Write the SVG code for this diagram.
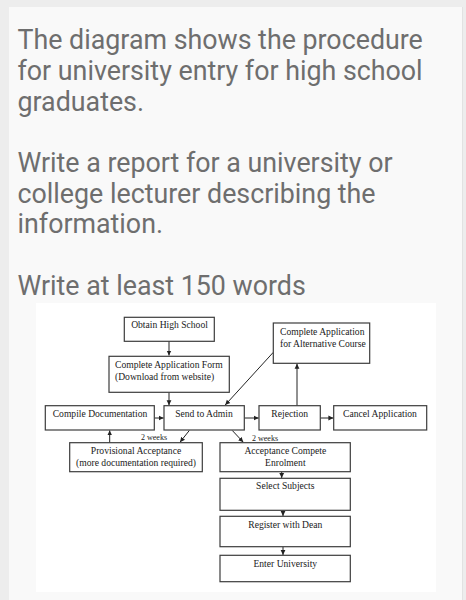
<svg xmlns="http://www.w3.org/2000/svg" width="466" height="600" viewBox="0 0 466 600">
<style>
.h{font-family:Roboto,"Noto Sans",sans-serif;font-size:26.8px;fill:#6e6e6e}
.box{fill:#fff;stroke:#3c3c3c;stroke-width:1.2}
.t{font-family:"Liberation Serif","Times New Roman",serif;font-size:9.6px;fill:#1a1a1a}
.c{text-anchor:middle}
.s{font-family:"Liberation Serif","Times New Roman",serif;font-size:8px;fill:#1a1a1a}
.ln{stroke:#222;stroke-width:1;fill:none;marker-end:url(#ah)}
</style>
<defs>
<marker id="ah" markerUnits="userSpaceOnUse" markerWidth="6" markerHeight="6" refX="5" refY="3" orient="auto">
<path d="M0,0.6 L5,3 L0,5.4 Z" fill="#222"/>
</marker>
</defs>
<rect x="0" y="0" width="466" height="600" fill="#ededed"/>
<rect x="9" y="7" width="453" height="600" fill="#f9f9f9"/>
<line x1="462.5" y1="7" x2="462.5" y2="600" stroke="#e2e2e2" stroke-width="1"/>
<g id="heading">
<text class="h" x="17.5" y="49.3">The diagram shows the procedure</text>
<text class="h" x="17.5" y="80">for university entry for high school</text>
<text class="h" x="17.5" y="110.5">graduates.</text>
<text class="h" x="17.5" y="172.3">Write a report for a university or</text>
<text class="h" x="17.5" y="202.7">college lecturer describing the</text>
<text class="h" x="17.5" y="233">information.</text>
<text class="h" x="17.5" y="295">Write at least 150 words</text>
</g>
<rect x="36" y="303" width="400" height="289" fill="#fff"/>
<g id="connectors">
<line class="ln" x1="169" y1="341" x2="169" y2="355.5"/>
<line class="ln" x1="169" y1="392.3" x2="169" y2="405.2"/>
<line class="ln" x1="154.3" y1="418" x2="163.6" y2="418"/>
<line class="ln" x1="273.3" y1="352.3" x2="225.2" y2="405"/>
<line class="ln" x1="109.7" y1="442.7" x2="109.7" y2="430.4"/>
<line class="ln" x1="189.3" y1="430.5" x2="180" y2="442.2"/>
<line class="ln" x1="232.3" y1="430.5" x2="243.3" y2="442.2"/>
<line class="ln" x1="244.3" y1="418" x2="258.7" y2="418"/>
<line class="ln" x1="320.3" y1="418" x2="333.4" y2="418"/>
<line class="ln" x1="297" y1="405.7" x2="297" y2="363.8"/>
<line class="ln" x1="281.7" y1="471.7" x2="281.7" y2="478"/>
<line class="ln" x1="283" y1="510.3" x2="283" y2="516"/>
<line class="ln" x1="283" y1="546.7" x2="283" y2="555"/>
<text class="s" x="141" y="439.5">2 weeks</text>
<text class="s" x="252" y="440.5">2 weeks</text>
</g>
<g id="obtain">
<rect class="box" x="124.3" y="317.3" width="90" height="24"/>
<text class="t c" x="169.5" y="328">Obtain High School</text>
</g>
<g id="application-form">
<rect class="box" x="109" y="356.3" width="120.3" height="36"/>
<text class="t" x="115" y="368">Complete Application Form</text>
<text class="t" x="115" y="380">(Download from website)</text>
</g>
<g id="alternative">
<rect class="box" x="273.3" y="323" width="96.4" height="40.3"/>
<text class="t" x="280" y="334.5">Complete Application</text>
<text class="t" x="280" y="346.5">for Alternative Course</text>
</g>
<g id="compile">
<rect class="box" x="45.3" y="405.7" width="109" height="24.3"/>
<text class="t c" x="100" y="417">Compile Documentation</text>
</g>
<g id="send-admin">
<rect class="box" x="164" y="405.7" width="80.3" height="24.3"/>
<text class="t c" x="204" y="417">Send to Admin</text>
</g>
<g id="rejection">
<rect class="box" x="259" y="405.7" width="61.3" height="24.3"/>
<text class="t c" x="289.7" y="417">Rejection</text>
</g>
<g id="cancel">
<rect class="box" x="333.7" y="405.7" width="93" height="24.3"/>
<text class="t c" x="380" y="417">Cancel Application</text>
</g>
<g id="provisional">
<rect class="box" x="69.7" y="442.7" width="132.6" height="29"/>
<text class="t c" x="136" y="453.5">Provisional Acceptance</text>
<text class="t c" x="136" y="465.5">(more documentation required)</text>
</g>
<g id="acceptance">
<rect class="box" x="220" y="442.7" width="130.3" height="29"/>
<text class="t c" x="285.3" y="453.5">Acceptance Compete</text>
<text class="t c" x="285.3" y="465.5">Enrolment</text>
</g>
<g id="select">
<rect class="box" x="220" y="478.3" width="130.3" height="32"/>
<text class="t c" x="285.3" y="489">Select Subjects</text>
</g>
<g id="register">
<rect class="box" x="220" y="516.3" width="130.3" height="30.4"/>
<text class="t c" x="285.3" y="528.3">Register with Dean</text>
</g>
<g id="enter">
<rect class="box" x="220" y="555.3" width="130.3" height="26.4"/>
<text class="t c" x="285.3" y="566.7">Enter University</text>
</g>
</svg>
